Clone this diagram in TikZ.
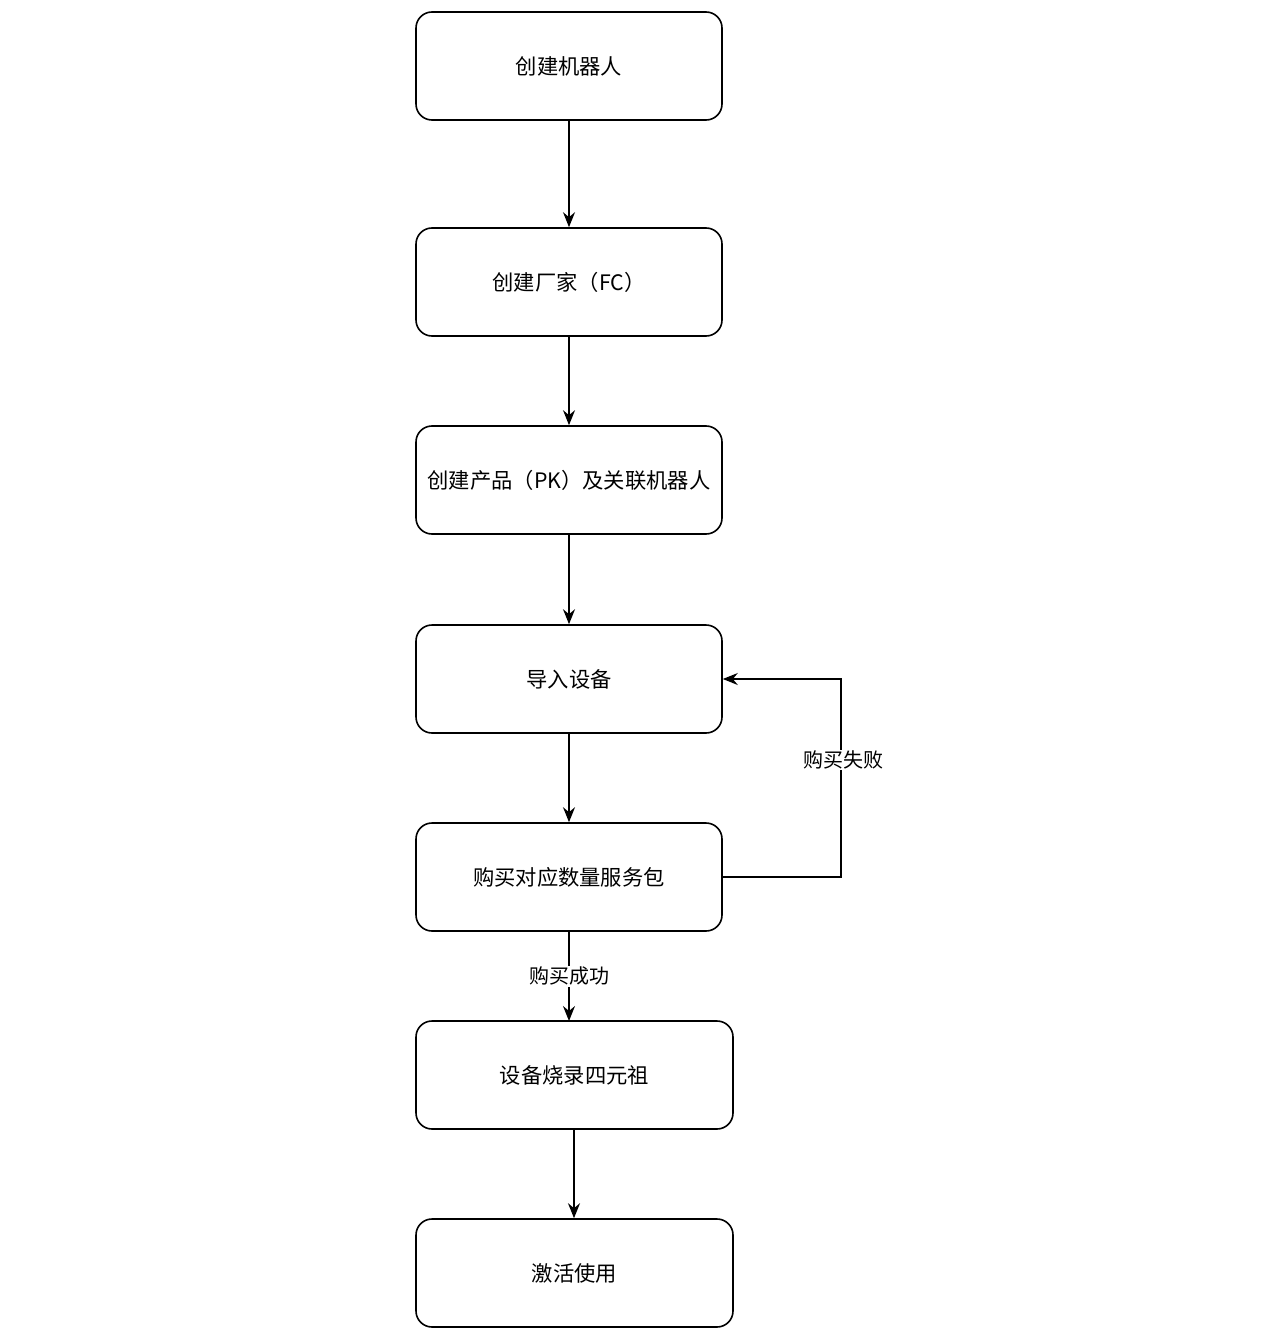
\documentclass[tikz,border=0pt]{standalone}
\usepackage{fontspec}
\setmainfont{Noto Sans CJK SC}
\usetikzlibrary{arrows.meta}
\begin{document}
\begin{tikzpicture}[x=1pt,y=-1pt,
  stepbox/.style={draw=black,line width=1.6pt,rounded corners=16pt,fill=white,inner sep=0pt,font=\fontsize{21.3}{25}\selectfont},
  conn/.style={draw=black,line width=1.6pt,-{Stealth[length=15pt,width=12pt,inset=5pt]}},
  lbl/.style={fill=white,inner sep=1pt,font=\fontsize{20}{24}\selectfont}]
\useasboundingbox (0,0) rectangle (1260,1340);
\node[stepbox,minimum width=306pt,minimum height=108pt] (b1) at (569,66) {创建机器人};
\node[stepbox,minimum width=306pt,minimum height=108pt] (b2) at (569,282) {创建厂家（FC）};
\node[stepbox,minimum width=306pt,minimum height=108pt] (b3) at (569,480) {创建产品（PK）及关联机器人};
\node[stepbox,minimum width=306pt,minimum height=108pt] (b4) at (569,679) {导入设备};
\node[stepbox,minimum width=306pt,minimum height=108pt] (b5) at (569,877) {购买对应数量服务包};
\node[stepbox,minimum width=317pt,minimum height=108pt] (b6) at (574.5,1075) {设备烧录四元祖};
\node[stepbox,minimum width=317pt,minimum height=108pt] (b7) at (574.5,1273) {激活使用};
\draw[conn] (b1) -- (b2);
\draw[conn] (b2) -- (b3);
\draw[conn] (b3) -- (b4);
\draw[conn] (b4) -- (b5);
\coordinate (t6) at (569,1021);
\draw[conn] (b5.south) -- (t6) node[lbl,pos=0.5] (l1) {购买成功};
\draw[conn] ([xshift=-0.5pt]b6.south) -- ([xshift=-0.5pt]b7.north);
\coordinate (c1) at (841,877);
\coordinate (c2) at (841,679);
\draw[conn] (b5.east) -- (c1) -- (c2) -- (b4.east);
\node[lbl] (l2) at (843,760) {购买失败};
\end{tikzpicture}
\end{document}
